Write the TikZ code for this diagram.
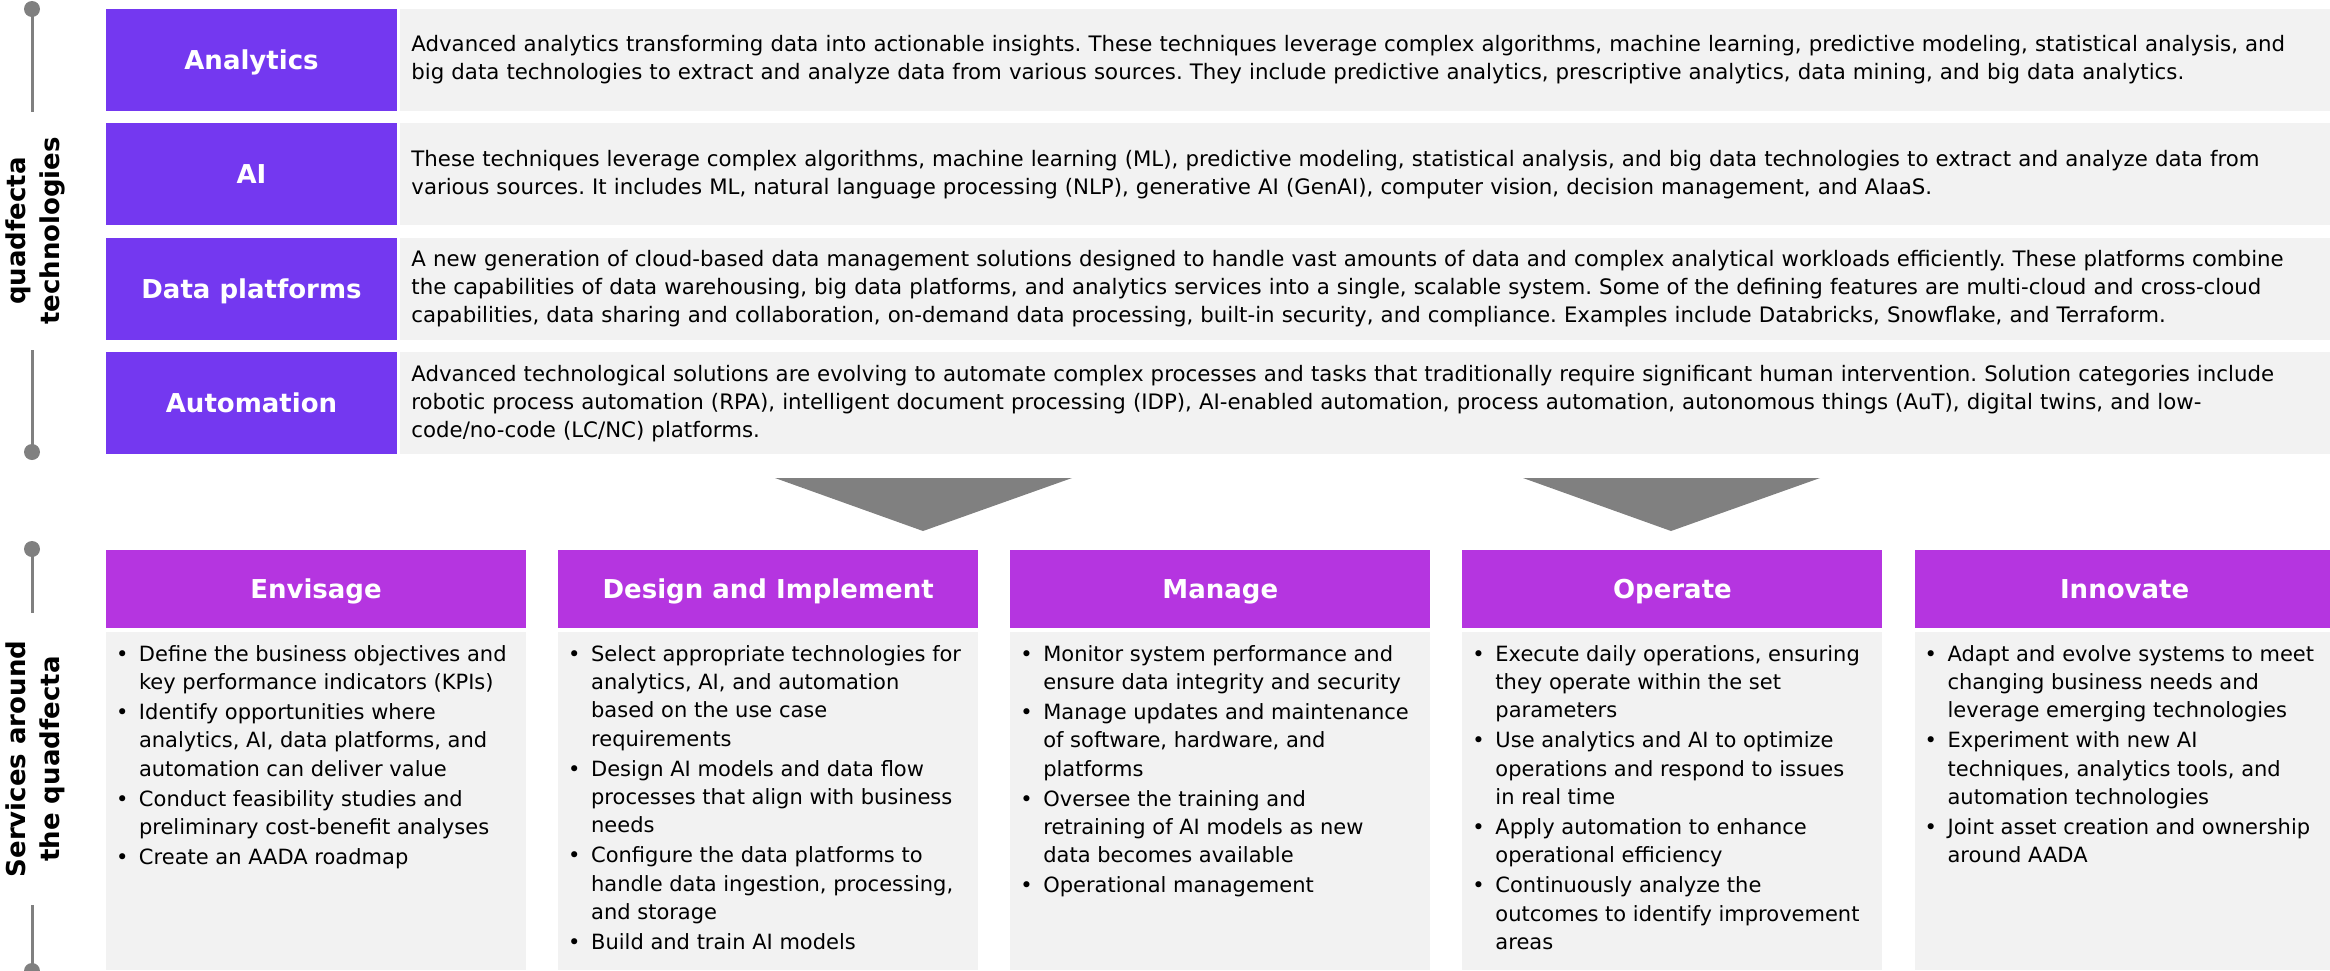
\documentclass[tikz,border=0pt]{standalone}
\usepackage{fontspec}
\usepackage{xcolor}
\setmainfont{DejaVu Sans}
\frenchspacing
\usetikzlibrary{positioning}
\definecolor{techpurple}{HTML}{7438F0}
\definecolor{phasepurple}{HTML}{B535E0}
\definecolor{panelgray}{HTML}{F2F2F2}
\definecolor{railgray}{HTML}{808080}
\newcommand{\bitem}[1]{\par\hangindent=23pt\hangafter=1\noindent\makebox[23pt][l]{\textbullet}#1}
\newcommand{\blist}[1]{\parbox[t][312pt][t]{400pt}{\setlength{\parskip}{1.7pt}#1}}

\begin{document}
\begin{tikzpicture}[
				x=1pt, y=-1pt,
				node distance=12pt,
				tech/.style={fill=techpurple, text=white, minimum width=291pt, minimum height=102pt, inner sep=0pt, text height=24pt, text depth=5pt, font=\bfseries\fontsize{26}{30}\selectfont},
				desc/.style={fill=panelgray, minimum width=1930pt, minimum height=102pt, text width=1908pt, inner xsep=11pt, align=left, font=\fontsize{21.3}{28}\selectfont},
				phase/.style={fill=phasepurple, text=white, minimum width=420pt, minimum height=78pt, inner sep=0pt, text height=24pt, text depth=5pt, font=\bfseries\fontsize{26}{30}\selectfont},
				body/.style={fill=panelgray, inner xsep=10pt, inner ysep=13pt, font=\fontsize{21}{28.3}\selectfont},
				side/.style={rotate=90, align=center, font=\bfseries\fontsize{26}{34}\selectfont},
				rail/.style={draw=railgray, line width=3pt},
			]
				\useasboundingbox (0,0) rectangle (2330,970);

				\node (analytics) [tech] at (251.5,60) {Analytics};
				\node (ai) [tech, below=of analytics] {AI};
				\node (platforms) [tech, below=of ai] {Data platforms};
				\node (automation) [tech, below=of platforms] {Automation};

				\node (analytics-d) [desc, right=3pt of analytics] {Advanced analytics transforming data into actionable insights. These techniques leverage complex algorithms, machine learning, predictive modeling, statistical analysis, and\\big data technologies to extract and analyze data from various sources. They include predictive analytics, prescriptive analytics, data mining, and big data analytics.};
				\node (ai-d) [desc, right=3pt of ai] {These techniques leverage complex algorithms, machine learning (ML), predictive modeling, statistical analysis, and big data technologies to extract and analyze data from\\various sources. It includes ML, natural language processing (NLP), generative AI (GenAI), computer vision, decision management, and AIaaS.};
				\node (platforms-d) [desc, right=3pt of platforms] {A new generation of cloud-based data management solutions designed to handle vast amounts of data and complex analytical workloads efficiently. These platforms combine\\the capabilities of data warehousing, big data platforms, and analytics services into a single, scalable system. Some of the defining features are multi-cloud and cross-cloud\\capabilities, data sharing and collaboration, on-demand data processing, built-in security, and compliance. Examples include Databricks, Snowflake, and Terraform.};
				\node (automation-d) [desc, right=3pt of automation] {Advanced technological solutions are evolving to automate complex processes and tasks that traditionally require significant human intervention. Solution categories include\\robotic process automation (RPA), intelligent document processing (IDP), AI-enabled automation, process automation, autonomous things (AuT), digital twins, and low-\\code/no-code (LC/NC) platforms.};

				\fill[railgray] (775,478) -- (1072,478) -- (923,531) -- cycle;
				\fill[railgray] (1523,478) -- (1820,478) -- (1671,531) -- cycle;

				\node (envisage) [phase] at (316,589) {Envisage};
				\node (design) [phase, right=31.75pt of envisage] {Design and Implement};
				\node (manage) [phase, right=31.75pt of design] {Manage};
				\node (operate) [phase, right=31.75pt of manage] {Operate};
				\node (innovate) [phase, right=31.75pt of operate] {Innovate};

				\node (envisage-b) [body, below=4pt of envisage] {\blist{%
					\bitem{Define the business objectives and\\key performance indicators (KPIs)}
					\bitem{Identify opportunities where\\analytics, AI, data platforms, and\\automation can deliver value}
					\bitem{Conduct feasibility studies and\\preliminary cost-benefit analyses}
					\bitem{Create an AADA roadmap}}};
				\node (design-b) [body, below=4pt of design] {\blist{%
					\bitem{Select appropriate technologies for\\analytics, AI, and automation\\based on the use case\\requirements}
					\bitem{Design AI models and data flow\\processes that align with business\\needs}
					\bitem{Configure the data platforms to\\handle data ingestion, processing,\\and storage}
					\bitem{Build and train AI models}}};
				\node (manage-b) [body, below=4pt of manage] {\blist{%
					\bitem{Monitor system performance and\\ensure data integrity and security}
					\bitem{Manage updates and maintenance\\of software, hardware, and\\platforms}
					\bitem{Oversee the training and\\retraining of AI models as new\\data becomes available}
					\bitem{Operational management}}};
				\node (operate-b) [body, below=4pt of operate] {\blist{%
					\bitem{Execute daily operations, ensuring\\they operate within the set\\parameters}
					\bitem{Use analytics and AI to optimize\\operations and respond to issues\\in real time}
					\bitem{Apply automation to enhance\\operational efficiency}
					\bitem{Continuously analyze the\\outcomes to identify improvement\\areas}}};
				\node (innovate-b) [body, below=4pt of innovate] {\blist{%
					\bitem{Adapt and evolve systems to meet\\changing business needs and\\leverage emerging technologies}
					\bitem{Experiment with new AI\\techniques, analytics tools, and\\automation technologies}
					\bitem{Joint asset creation and ownership\\around AADA}}};

				\node (tech-label) [side] at (35,231) {quadfecta\\technologies};
				\node (service-label) [side] at (35,759) {Services around\\the quadfecta};

				\coordinate (t1) at (32,9);
				\coordinate (t2) at (32,112);
				\coordinate (t3) at (32,350);
				\coordinate (t4) at (32,452);
				\coordinate (s1) at (32,549);
				\coordinate (s2) at (32,613);
				\coordinate (s3) at (32,905);
				\coordinate (s4) at (32,971);
				\draw[rail] (t1) -- (t2);
				\draw[rail] (t3) -- (t4);
				\draw[rail] (s1) -- (s2);
				\draw[rail] (s3) -- (s4);
				\foreach \p in {t1,t4,s1,s4}
					\fill[railgray] (\p) circle (8pt);
			\end{tikzpicture}
\end{document}
